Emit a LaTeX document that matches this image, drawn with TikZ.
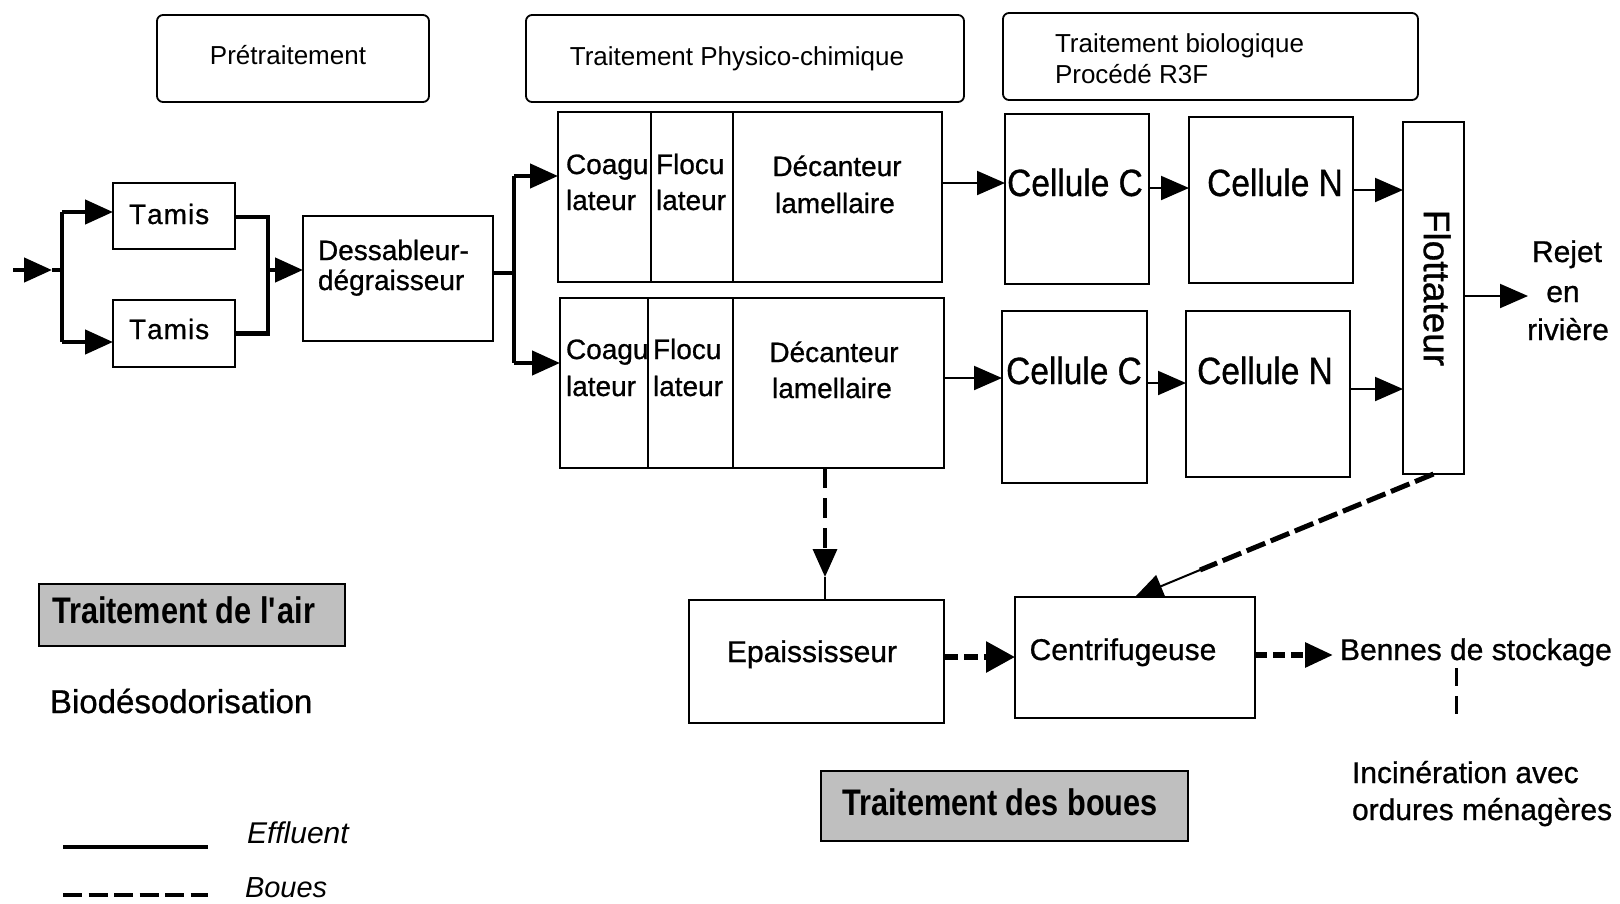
\documentclass[tikz,border=0pt]{standalone}
\usepackage{fontspec}
\setmainfont{Liberation Sans}
\newfontfamily\heavyfont[FakeBold=0.8]{Liberation Sans}
\newfontfamily\condfont[FakeStretch=0.88,FakeBold=0.8]{Liberation Sans}
\newfontfamily\condbfont[FakeStretch=0.83]{Liberation Sans}
\usetikzlibrary{arrows.meta}
\newcommand{\myfs}[1]{\fontsize{#1}{#1}\selectfont}
\begin{document}
\begin{tikzpicture}[x=1pt,y=-1pt,
  >={Triangle[length=28pt,width=24pt]},
  box/.style={draw, line width=2.5pt, inner sep=0pt, outer sep=0pt},
  hbox/.style={draw, line width=1.8pt, rounded corners=6pt, inner sep=0pt, outer sep=0pt},
  gbox/.style={draw, line width=2.5pt, fill=black!25, inner sep=0pt, outer sep=0pt},
  txt/.style={inner sep=0pt, outer sep=0pt},
  eff/.style={line width=4.5pt},
  effthin/.style={line width=2pt},
  sludgeA/.style={line width=3.5pt, dash pattern=on 20pt off 10pt},
  sludgeB/.style={line width=6pt, dash pattern=on 14pt off 6pt},
  sludgeC/.style={line width=5pt, dash pattern=on 20pt off 6pt},
  sludgeD/.style={line width=3pt, dash pattern=on 18pt off 10pt},
  hfont/.style={font=\myfs{26}},
  mfont/.style={font=\heavyfont\myfs{28}},
  cfont/.style={font=\condfont\myfs{38}},
  lfont/.style={font=\heavyfont\myfs{30}},
  bfont/.style={font=\condbfont\bfseries\myfs{37}}
]
\useasboundingbox (0,0) rectangle (1620,903);

% header boxes
\node[hbox, minimum width=272pt, minimum height=87pt] (pre) at (293,58.5) {};
\node[hbox, minimum width=438pt, minimum height=87pt] (physH) at (745,58.5) {};
\node[hbox, minimum width=415pt, minimum height=87pt] (bioH) at (1210.5,56.5) {};
\node[txt, hfont, anchor=base] (tpre) at (288,64) {Prétraitement};
\node[txt, hfont, anchor=base] (tphys) at (737,65) {Traitement Physico-chimique};
\node[txt, hfont, anchor=base west] (tbio1) at (1055,52) {Traitement biologique};
\node[txt, hfont, anchor=base west] (tbio2) at (1055,83) {Procédé R3F};

% pretraitement
\node[box, minimum width=122pt, minimum height=66pt] (tamis1) at (174,216) {};
\node[box, minimum width=122pt, minimum height=67pt] (tamis2) at (174,333.5) {};
\node[box, minimum width=190pt, minimum height=125pt] (dess) at (398,278.5) {};
\node[txt, mfont, anchor=base west] (ttam1) at (129,224) {T\kern1pt a\kern1pt m\kern1pt i\kern1pt s};
\node[txt, mfont, anchor=base west] (ttam2) at (129,339) {T\kern1pt a\kern1pt m\kern1pt i\kern1pt s};
\node[txt, mfont, anchor=base west] (tdes1) at (318,260) {Dessableur-};
\node[txt, mfont, anchor=base west] (tdes2) at (318,290) {dégraisseur};

% physico-chimique
\node[box, minimum width=384pt, minimum height=170pt] (phys1) at (750,197) {};
\node[box, minimum width=384pt, minimum height=170pt] (phys2) at (752,383) {};
\coordinate (dv1) at (651,0);
\coordinate (dv2) at (733,0);
\coordinate (dv3) at (648,0);
\draw[line width=2.5pt] (dv1 |- phys1.north) -- (dv1 |- phys1.south);
\draw[line width=2.5pt] (dv2 |- phys1.north) -- (dv2 |- phys1.south);
\draw[line width=2.5pt] (dv3 |- phys2.north) -- (dv3 |- phys2.south);
\draw[line width=2.5pt] (dv2 |- phys2.north) -- (dv2 |- phys2.south);
\node[txt, mfont, anchor=base west] (c1a) at (566,174) {Coagu};
\node[txt, mfont, anchor=base west] (c1b) at (566,210) {lateur};
\node[txt, mfont, anchor=base west] (f1a) at (656,174) {Flocu};
\node[txt, mfont, anchor=base west] (f1b) at (656,210) {lateur};
\node[txt, mfont, anchor=base] (d1a) at (837,176) {Décanteur};
\node[txt, mfont, anchor=base] (d1b) at (835,213) {lamellaire};
\node[txt, mfont, anchor=base west] (c2a) at (566,359) {Coagu};
\node[txt, mfont, anchor=base west] (c2b) at (566,396) {lateur};
\node[txt, mfont, anchor=base west] (f2a) at (653,359) {Flocu};
\node[txt, mfont, anchor=base west] (f2b) at (653,396) {lateur};
\node[txt, mfont, anchor=base] (d2a) at (834,362) {Décanteur};
\node[txt, mfont, anchor=base] (d2b) at (832,398) {lamellaire};

% biologique
\node[box, minimum width=144pt, minimum height=170pt] (cc1) at (1077,199) {};
\node[box, minimum width=164pt, minimum height=166pt] (cn1) at (1271,200) {};
\node[box, minimum width=145pt, minimum height=172pt] (cc2) at (1074.5,397) {};
\node[box, minimum width=164pt, minimum height=166pt] (cn2) at (1268,394) {};
\node[box, minimum width=61pt, minimum height=352pt] (flot) at (1433.5,298) {};
\node[txt, cfont, anchor=base] (tcc1) at (1075,196) {Cellule C};
\node[txt, cfont, anchor=base] (tcn1) at (1275,196) {Cellule N};
\node[txt, cfont, anchor=base] (tcc2) at (1074,384) {Cellule C};
\node[txt, cfont, anchor=base] (tcn2) at (1265,384) {Cellule N};
\node[txt, font=\heavyfont\myfs{37}, rotate=-90] (tflot) at (1437,288) {Flottateur};
\node[txt, lfont, anchor=base] (rj1) at (1567,262) {Rejet};
\node[txt, lfont, anchor=base] (rj2) at (1563,302) {en};
\node[txt, lfont, anchor=base] (rj3) at (1568,340) {rivière};

% boues
\node[box, minimum width=255pt, minimum height=123pt] (epa) at (816.5,661.5) {};
\node[box, minimum width=240pt, minimum height=121pt] (centri) at (1135,657.5) {};
\node[txt, lfont, anchor=base] (tepa) at (812,662) {Epaississeur};
\node[txt, lfont, anchor=base] (tcen) at (1123,660) {Centrifugeuse};
\node[txt, lfont, anchor=base west] (benne) at (1340,660) {Bennes de stockage};
\node[txt, lfont, anchor=base west] (inc1) at (1352,783) {Incinération avec};
\node[txt, lfont, anchor=base west] (inc2) at (1352,820) {ordures ménagères};
\node[gbox, minimum width=367pt, minimum height=70pt] (boues) at (1004.5,806) {};
\node[txt, bfont, anchor=base] (tboues) at (1000,815) {Traitement des boues};

% air
\node[gbox, minimum width=306pt, minimum height=62pt] (air) at (192,615) {};
\node[txt, bfont, anchor=base west] (tair) at (52,623) {Traitement de l\textquotesingle air};
\node[txt, font=\heavyfont\myfs{33}, anchor=base west] (bio) at (50,713) {Biodésodorisation};

% legend
\coordinate (lg1) at (63,847);
\coordinate (lg2) at (208,847);
\coordinate (lg3) at (63,895);
\coordinate (lg4) at (208,895);
\draw[line width=4pt] (lg1) -- (lg2);
\draw[line width=4pt, dash pattern=on 19pt off 6.5pt] (lg3) -- (lg4);
\node[txt, font=\itshape\myfs{30}, anchor=base west] (leff) at (247,843) {Effluent};
\node[txt, font=\itshape\myfs{29}, anchor=base west] (lboue) at (245,897) {Boues};

% effluent connectors - pretraitement
\coordinate (in) at (13,270);
\coordinate (inTip) at (52,270);
\coordinate (j0) at (62,270);
\coordinate (a1) at (62,212);
\coordinate (a2) at (62,342);
\draw[eff, ->] (in) -- (inTip);
\draw[eff] (inTip) -- (j0);
\draw[eff] (a1) -- (a2);
\draw[eff, ->] (a1) -- (a1 -| tamis1.west);
\draw[eff, ->] (a2) -- (a2 -| tamis2.west);
\coordinate (m1) at (268,217);
\coordinate (m2) at (268,333.5);
\coordinate (m3) at (268,270);
\draw[eff] (tamis1.east |- m1) -- (m1) -- (m2) -- (tamis2.east |- m2);
\draw[eff, ->] (m3) -- (m3 -| dess.west);
\coordinate (d1) at (514,273);
\coordinate (b1) at (514,176);
\coordinate (b2) at (514,363);
\draw[eff] (dess.east |- d1) -- (d1);
\draw[eff] (b1) -- (b2);
\draw[eff, ->] (b1) -- (b1 -| phys1.west);
\draw[eff, ->] (b2) -- (b2 -| phys2.west);

% effluent connectors - bio
\coordinate (r1) at (0,183);
\coordinate (r2) at (0,188);
\coordinate (r3) at (0,190);
\coordinate (r4) at (0,378);
\coordinate (r5) at (0,383);
\coordinate (r6) at (0,389);
\coordinate (r7) at (0,296);
\coordinate (rjt) at (1528,296);
\draw[effthin, ->] (phys1.east |- r1) -- (cc1.west |- r1);
\draw[effthin, ->] (cc1.east |- r2) -- (cn1.west |- r2);
\draw[effthin, ->] (cn1.east |- r3) -- (flot.west |- r3);
\draw[effthin, ->] (phys2.east |- r4) -- (cc2.west |- r4);
\draw[effthin, ->] (cc2.east |- r5) -- (cn2.west |- r5);
\draw[effthin, ->] (cn2.east |- r6) -- (flot.west |- r6);
\draw[effthin, ->] (flot.east |- r7) -- (rjt);

% sludge connectors
\coordinate (e1) at (825,577);
\draw[sludgeA, ->] (phys2.south -| e1) -- (e1);
\draw[line width=2.5pt] (e1) -- (e1 |- epa.north);
\coordinate (s1) at (0,657);
\draw[sludgeB, -{Triangle[length=29pt,width=30pt]}] (epa.east |- s1) -- (centri.west |- s1);
\coordinate (s2) at (0,655);
\coordinate (bt) at (1333,655);
\draw[sludgeB, dash pattern=on 12pt off 6pt, ->] (centri.east |- s2) -- (bt);
\coordinate (v1) at (1456,668);
\coordinate (v2) at (1456,723);
\draw[sludgeD] (v1) -- (v2);
\coordinate (fm) at (1200,570);
\coordinate (ctip) at (1135,597);
\draw[sludgeC] (flot.south) -- (fm);
\draw[line width=2pt, ->] (fm) -- (ctip);
\end{tikzpicture}
\end{document}
